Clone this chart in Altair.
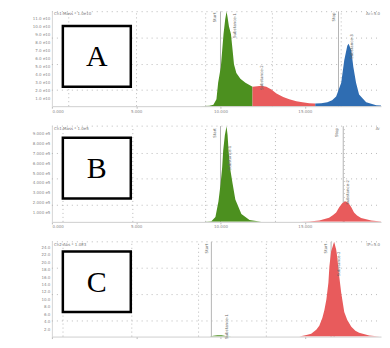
import altair as alt
import pandas as pd

# ---------------- data (x in run units, y in panel units) ----------------
# Panel A
a_green_x = [0, 43.8, 46.7, 47.9, 48.8, 49.3, 50.1, 50.5, 50.9, 51.4, 51.8, 52.1, 52.5, 53.1, 53.6, 54.0, 54.7, 55.9, 57.4, 59.5]
a_green_y = [0, 0, 0.06, 0.18, 0.85, 2.93, 4.88, 6.95, 9.02, 10.85, 11.83, 11.1, 9.99, 9.02, 6.95, 5.24, 4.15, 3.41, 2.93, 2.44]
a_red_x = [59.5, 60.9, 62.1, 63.6, 65.1, 66.6, 68.6, 70.4, 72.5, 74.3, 76.3, 78.1]
a_red_y = [2.44, 2.5, 2.56, 2.44, 2.07, 1.59, 1.16, 0.85, 0.61, 0.49, 0.37, 0.33]
a_blue_x = [78.1, 79.9, 81.7, 83.1, 84.3, 85.8, 86.7, 87.6, 88.0, 88.8, 89.4, 90.2, 91.1, 93.2, 96.2, 100]
a_blue_y = [0.33, 0.37, 0.49, 0.73, 1.22, 2.93, 5.73, 7.56, 7.80, 6.95, 4.88, 2.93, 1.46, 0.49, 0.12, 0]

# Panel B
b_green_x = [0, 45.3, 47.3, 48.5, 49.4, 50.0, 50.5, 50.8, 51.3, 51.8, 52.1, 52.4, 52.8, 53.6, 54.4, 56.2, 58.6, 62.1]
b_green_y = [0, 0, 0.07, 0.5, 2.1, 3.8, 5.6, 7.3, 8.9, 9.8, 8.9, 7.3, 5.6, 3.9, 2.3, 0.8, 0.2, 0.02]
b_red_x = [73.4, 76.3, 79.3, 82.2, 83.4, 84.3, 85.2, 86.1, 87.0, 87.9, 88.8, 89.6, 90.5, 91.7, 94.7, 98.5, 100]
b_red_y = [0, 0.04, 0.15, 0.43, 0.7, 0.95, 1.5, 1.9, 2.1, 1.95, 1.5, 0.95, 0.65, 0.4, 0.15, 0.02, 0]

# Panel C
c_green_x = [0, 43.8, 46.7, 47.9, 49.1, 50.3, 51.5, 53.3, 61.5, 73.4]
c_green_y = [0, 0, 0.05, 0.21, 0.37, 0.37, 0.18, 0.05, 0.03, 0.03]
c_red_x = [73.4, 75.5, 76.9, 78.4, 79.3, 80.2, 80.8, 81.4, 82.0, 82.3, 82.8, 83.7, 84.3, 84.6, 85.2, 85.8, 86.7, 87.6, 88.8, 90.0, 91.1, 94.1, 97.1, 100]
c_red_y = [0.03, 0.39, 0.79, 1.84, 2.89, 5.0, 7.1, 10.0, 14.5, 18.9, 22.9, 25.5, 23.4, 21.6, 16.3, 11.8, 6.6, 4.47, 2.63, 1.58, 1.05, 0.26, 0.05, 0]

# axis ticks / grids
x_tick_values = [0, 25, 50, 75]
a_y_ticks = [1, 2, 3, 4, 5, 6, 7, 8, 9, 10, 11]
b_y_ticks = [1, 2, 3, 4, 5, 6, 7, 8, 9]
c_y_ticks = [2, 4, 6, 8, 10, 12, 14, 16, 18, 20, 22, 24]
a_xgrid = [5.0, 25.1, 45.6, 65.4, 85.8]
b_xgrid = [3.3, 24.0, 45.6, 66.3, 86.7]
c_xgrid = [3.3, 23.7, 43.5, 63.6, 83.7]
a_ygrid = [2.0, 5.2, 8.5, 11.8]
b_ygrid = [1.7, 4.4, 7.0, 9.8]
c_ygrid = [4.2, 11.3, 18.4, 25.5]

# start / stop markers
a_marks = [50.0, 85.0]
b_marks = [50.0, 86.4]
c_marks = [47.3, 82.8]

# rotated labels: x, top y, text
a_lab_x = [48.5, 54.2, 62.4, 83.6, 88.9]
a_lab_y = [11.7, 11.6, 5.1, 11.7, 9.0]
a_lab_t = ["Start", "Substance-1", "Substance-2", "Stop", "Substance-3"]
b_lab_x = [48.5, 52.9, 84.6, 87.8]
b_lab_y = [9.6, 7.8, 9.6, 4.3]
b_lab_t = ["Start", "Substance-1", "Stop", "Substance-2"]
c_lab_x = [45.9, 51.8, 81.4, 85.2]
c_lab_y = [25.0, 6.0, 25.0, 22.9]
c_lab_t = ["Start", "Substance-1", "Start", "Substance-2"]

# boxes (x0, x1, y0, y1) and letters
a_box = [3.25, 23.4, 2.44, 10.0]
b_box = [3.25, 23.4, 2.4, 8.6]
c_box = [3.25, 23.4, 6.6, 22.9]
letters = ["A", "B", "C"]

headers_left = ["Ch1:Mass  * 1.0e10", "Ch1:Mass  * 1.0e5", "Ch2:Abs  * 1.0E3"]
headers_right = ["Ar=5.0", "Ar", "tP=5.0"]

seg_domain = ["green", "red", "blue"]
seg_range = ["#4c901f", "#e85b5c", "#2f6db2"]

GRID = "#a8a8a8"
XMAX = 97.6
W = 330


def panel(series, ymax, yticks, ylabfmt, xgrid, ygrid, marks, lab_x, lab_y, lab_t,
          box, letter, hl, hr, height, show_xlabels=True):
    xenc = alt.X("x:Q", scale=alt.Scale(domain=[0, XMAX], nice=False, zero=False),
                 axis=alt.Axis(values=x_tick_values, labelExpr="format(datum.value/5, '.3f')",
                               labelFontSize=4, labelColor="#888", tickSize=2, tickColor="#bbb",
                               domainColor="#cfcfcf", labelPadding=1, grid=False,
                               labels=show_xlabels, labelFont="DejaVu Sans"),
                 title=None)
    yenc = alt.Y("y:Q", scale=alt.Scale(domain=[0, ymax], nice=False, zero=True),
                 axis=alt.Axis(values=yticks, labelExpr=ylabfmt, labelFontSize=4,
                               labelColor="#888", ticks=False, domainColor="#d5d5d5",
                               minExtent=44, maxExtent=44, labelPadding=2, grid=False,
                               labelFont="DejaVu Sans"),
                 title=None, stack=None)

    rows = []
    for name, xs, ys in series:
        for xv, yv in zip(xs, ys):
            rows.append({"x": xv, "y": yv, "seg": name})
    df_area = pd.DataFrame(rows)

    vgrid = alt.Chart(pd.DataFrame({"x": xgrid, "y": [0] * len(xgrid), "y2": [ymax] * len(xgrid)})).mark_rule(
        color=GRID, strokeDash=[1, 3], strokeWidth=0.8).encode(x=xenc, y=yenc, y2="y2:Q")
    hgrid = alt.Chart(pd.DataFrame({"y": ygrid, "x": [0] * len(ygrid), "x2": [XMAX] * len(ygrid)})).mark_rule(
        color=GRID, strokeDash=[1, 4], strokeWidth=0.8).encode(x=xenc, x2="x2:Q", y=yenc)
    mrules = alt.Chart(pd.DataFrame({"x": marks, "y": [0] * len(marks), "y2": [ymax] * len(marks)})).mark_rule(
        color="#b5b5b5", strokeWidth=1).encode(x=xenc, y=yenc, y2="y2:Q")
    area = alt.Chart(df_area).mark_area(opacity=1, clip=True).encode(
        x=xenc, y=yenc,
        color=alt.Color("seg:N", scale=alt.Scale(domain=seg_domain, range=seg_range), legend=None))
    labs = alt.Chart(pd.DataFrame({"x": lab_x, "y": lab_y, "t": lab_t})).mark_text(
        angle=270, align="right", baseline="middle", fontSize=4, color="#666",
        font="DejaVu Sans").encode(x=xenc, y=yenc, text="t:N")
    boxc = alt.Chart(pd.DataFrame({"x": [box[0]], "x2": [box[1]], "y": [box[2]], "y2": [box[3]]})).mark_rect(
        fill="white", stroke="black", strokeWidth=2.5).encode(x=xenc, x2="x2:Q", y=yenc, y2="y2:Q")
    let = alt.Chart(pd.DataFrame({"x": [(box[0] + box[1]) / 2], "y": [(box[2] + box[3]) / 2], "t": [letter]})).mark_text(
        font="Liberation Serif", fontSize=30, color="black", baseline="middle", align="center", dy=1).encode(
        x=xenc, y=yenc, text="t:N")
    hleft = alt.Chart(pd.DataFrame({"x": [0.6], "y": [ymax], "t": [hl]})).mark_text(
        align="left", baseline="top", fontSize=4, color="#777", dy=1,
        font="DejaVu Sans").encode(x=xenc, y=yenc, text="t:N")
    hright = alt.Chart(pd.DataFrame({"x": [XMAX - 0.3], "y": [ymax], "t": [hr]})).mark_text(
        align="right", baseline="top", fontSize=4, color="#777", dy=1,
        font="DejaVu Sans").encode(x=xenc, y=yenc, text="t:N")

    return alt.layer(vgrid, hgrid, mrules, area, labs, boxc, let, hleft, hright).properties(
        width=W, height=height)


pA = panel([("green", a_green_x, a_green_y), ("red", a_red_x, a_red_y), ("blue", a_blue_x, a_blue_y)],
           11.83, a_y_ticks, "format(datum.value, '.1f') + ' e10'", a_xgrid, a_ygrid, a_marks,
           a_lab_x, a_lab_y, a_lab_t, a_box, letters[0], headers_left[0], headers_right[0], 95)
pB = panel([("green", b_green_x, b_green_y), ("red", b_red_x, b_red_y)],
           9.8, b_y_ticks, "format(datum.value, '.3f') + ' e5'", b_xgrid, b_ygrid, b_marks,
           b_lab_x, b_lab_y, b_lab_t, b_box, letters[1], headers_left[1], headers_right[1], 96)
pC = panel([("green", c_green_x, c_green_y), ("red", c_red_x, c_red_y)],
           25.5, c_y_ticks, "format(datum.value, '.1f')", c_xgrid, c_ygrid, c_marks,
           c_lab_x, c_lab_y, c_lab_t, c_box, letters[2], headers_left[2], headers_right[2], 95,
           show_xlabels=False)

chart = alt.vconcat(pA, pB, pC, spacing=12).properties(
    padding={"left": 0, "top": 2, "right": 0, "bottom": 0},
    background="white",
).configure_view(stroke=None)

chart.save("out.html", embed_options={"renderer": "svg", "actions": False})
